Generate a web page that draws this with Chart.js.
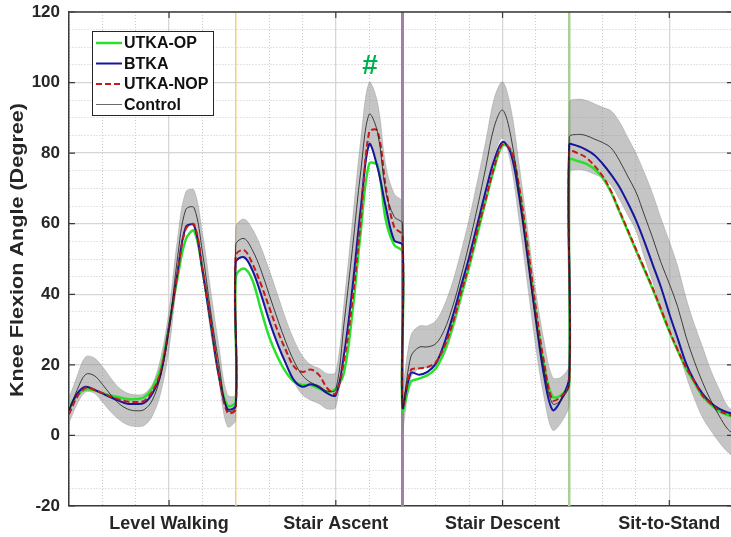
<!DOCTYPE html>
<html>
<head>
<meta charset="utf-8">
<script src="https://cdn.jsdelivr.net/npm/chart.js@4.4.1/dist/chart.umd.min.js"></script>
<style>
  html, body { margin: 0; padding: 0; background: #fff; }
  canvas { display: block; }
</style>
</head>
<body>
<canvas id="kneeChart" width="731" height="537"></canvas>
<script>
// % of each task cycle, same sampling for all four tasks
var cyclePct = [0, 5, 10, 15, 20, 25, 30, 35, 40, 45, 50, 55, 60, 65, 70, 75, 80, 85, 90, 95, 100];
var tasks = ['Level Walking', 'Stair Ascent', 'Stair Descent', 'Sit-to-Stand'];
var taskTickAt = [60, 160, 260, 360];

// knee flexion (deg), one row per task
var utkaOp = [
    8, 11.5, 13, 12.8, 12, 11.3, 10.8, 10.3, 10.3, 10.8, 13.5, 19, 31, 44.5, 55.5, 58, 47, 32, 17, 8.5, 9.5,
    45, 47.3, 44, 35.8, 28, 22.3, 18, 15.2, 14.3, 14.3, 13.3, 12.4, 13.3, 18, 35, 58, 77, 76.5, 61, 54, 52,
    7, 15.2, 16.1, 17.1, 19, 23.7, 30.8, 39.3, 47.8, 57.2, 66.7, 75.6, 82.2, 80.8, 69.5, 52.5, 34.6, 19.5, 11, 11.4, 14.7,
    78, 77.8, 77, 75.5, 73, 69, 63.5, 58, 52.5, 47, 41.5, 35.5, 29.5, 24, 19, 15, 11, 8.7, 6.8, 5.8, 5
];
var btka = [
    7.2, 11.9, 13.8, 13, 11.9, 10.8, 9.8, 9, 8.9, 9.2, 11.9, 17.5, 30.8, 45.9, 59, 59.5, 46.8, 31.7, 16.6, 7.5, 8.5,
    49, 50.5, 46.8, 40.2, 32.6, 26, 20.4, 15.6, 13.8, 14.5, 13.6, 11.9, 11.4, 23.2, 42, 64.5, 82.5, 76, 64.7, 55.3, 54,
    8, 17.7, 17.2, 18, 20.4, 26, 33.6, 42.1, 50.6, 60, 69.5, 78, 83.2, 79.9, 67.6, 50.6, 32.7, 16.6, 7.2, 10, 16.6,
    82.3, 82, 81, 79.5, 77, 74, 70.5, 66, 61, 55, 48.5, 42, 34.5, 27.5, 20.5, 15.5, 11.8, 9.2, 7.5, 6.5, 6
];
var utkaNop = [
    6, 11, 13.5, 13, 12, 11, 10.2, 9.6, 9.5, 9.8, 12.5, 18, 30.5, 45.5, 58.5, 59.8, 47.5, 32.5, 17, 6.5, 7.5,
    51, 52.5, 48.7, 43, 36.4, 29.8, 24.2, 19.5, 18, 18.7, 17.1, 13.3, 11.9, 21.3, 38.3, 61, 86, 86.3, 70.4, 59.1, 56.7,
    8.5, 18.5, 19, 19.4, 20.8, 25.1, 31.7, 40.2, 48.7, 58.2, 67.1, 76.1, 82.5, 80.8, 70.4, 53.9, 36, 20.4, 10, 11, 14.7,
    80.5, 80, 78.8, 76.5, 73.5, 69.3, 63.8, 58.3, 52.8, 47.3, 41.8, 35.8, 29.8, 24.3, 19.3, 15.3, 11.3, 9, 7, 6, 5.2
];
var control = [
    7, 13, 17.3, 17, 14.5, 11.5, 9, 7.5, 7, 7.3, 10, 17, 30, 50, 64, 64.5, 52, 35, 20, 7, 8,
    54, 55.8, 52.5, 47, 40, 33, 26.5, 21, 17, 15, 14, 12.5, 13, 32, 53, 75, 91, 86, 69, 62, 60,
    8, 22.3, 25, 25.1, 26, 29.8, 36.4, 44.9, 54.4, 64.8, 76.1, 87.5, 92.2, 84.7, 68.6, 50.6, 32.7, 18.5, 9, 10, 14.7,
    84.5, 85.3, 85, 84, 83, 81.5, 78, 73.5, 69, 62.5, 56, 49, 43, 36.5, 28, 21, 15, 9.8, 5.5, 1.8, 0
];
var controlSd = [
    3.5, 4, 5, 5, 5, 4.8, 4.5, 4.5, 4.5, 4.5, 4.5, 5, 5.5, 5.5, 5, 5, 5.5, 6, 5, 4.5, 3.5,
    5, 5.5, 6, 6.5, 7, 7, 6.5, 6, 5.5, 5, 5, 5, 5, 6, 8, 9, 9, 8.5, 7.5, 6.5, 6,
    6, 6, 6, 6, 6.5, 7, 7, 7, 7, 7.5, 7.5, 8, 8, 8, 8, 8, 8, 8, 7.5, 6.5, 5.5,
    10, 10, 10, 10, 10, 10.5, 11, 11, 11, 12, 12.5, 12.5, 12, 11.5, 11, 10.5, 10, 8.5, 7.5, 6.5, 6.5
];

var FONT = 'Arial, "Liberation Sans", sans-serif';

function toPoints(values) {
    return values.map(function (v, i) {
        var task = Math.floor(i / cyclePct.length);
        return { x: task * 100 + cyclePct[i % cyclePct.length], y: v };
    });
}
var bandUpper = control.map(function (v, i) { return v + controlSd[i]; });
var bandLower = control.map(function (v, i) { return v - controlSd[i]; });

var series = [
    { label: 'UTKA-OP', data: utkaOp, color: '#2be02b', width: 2.5, dash: [], order: 4 },
    { label: 'BTKA', data: btka, color: '#16169c', width: 2, dash: [], order: 3 },
    { label: 'UTKA-NOP', data: utkaNop, color: '#c41a1a', width: 2, dash: [6, 3], order: 2 },
    { label: 'Control', data: control, color: '#1a1a1a', width: 0.8, dash: [], order: 1 }
];
var separators = [
    { at: 100, color: '#efd27c', width: 1.5 },
    { at: 200, color: '#a081a6', width: 3 },
    { at: 300, color: '#a9d196', width: 2.5 }
];

var datasets = [{
    label: 'band+',
    data: toPoints(bandUpper),
    borderColor: 'rgba(120,120,120,0.5)',
    borderWidth: 0.6,
    backgroundColor: 'rgba(140,140,140,0.5)',
    fill: '+1',
    pointRadius: 0,
    tension: 0.35,
    order: 10
}, {
    label: 'band-',
    data: toPoints(bandLower),
    borderColor: 'rgba(120,120,120,0.5)',
    borderWidth: 0.6,
    fill: false,
    pointRadius: 0,
    tension: 0.35,
    order: 10
}];
series.forEach(function (s) {
    datasets.push({
        label: s.label,
        data: toPoints(s.data),
        borderColor: s.color,
        borderWidth: s.width,
        borderDash: s.dash,
        fill: false,
        pointRadius: 0,
        tension: 0.35,
        order: s.order
    });
});

function isMajorX(v) { return taskTickAt.indexOf(v) >= 0; }
function isMajorY(v) { return v % 20 === 0; }

var decorations = {
    id: 'decorations',
    beforeDatasetsDraw: function (chart) {
        var ctx = chart.ctx, area = chart.chartArea, xs = chart.scales.x;
        ctx.save();
        separators.forEach(function (s) {
            var px = xs.getPixelForValue(s.at);
            ctx.strokeStyle = s.color;
            ctx.lineWidth = s.width;
            ctx.beginPath();
            ctx.moveTo(px, area.top);
            ctx.lineTo(px, area.bottom);
            ctx.stroke();
        });
        ctx.restore();
    },
    afterDraw: function (chart) {
        var ctx = chart.ctx, area = chart.chartArea, xs = chart.scales.x, ys = chart.scales.y;
        ctx.save();
        // top border + inward ticks (matlab box)
        ctx.strokeStyle = '#3a3a3a';
        ctx.lineWidth = 1.5;
        ctx.beginPath();
        ctx.moveTo(area.left, area.top);
        ctx.lineTo(area.right, area.top);
        ctx.stroke();
        ctx.lineWidth = 1.2;
        taskTickAt.forEach(function (v) {
            var px = xs.getPixelForValue(v);
            ctx.beginPath();
            ctx.moveTo(px, area.bottom); ctx.lineTo(px, area.bottom - 6);
            ctx.moveTo(px, area.top); ctx.lineTo(px, area.top + 6);
            ctx.stroke();
        });
        for (var v = -20; v <= 120; v += 20) {
            var py = ys.getPixelForValue(v);
            ctx.beginPath();
            ctx.moveTo(area.left, py); ctx.lineTo(area.left + 6, py);
            ctx.moveTo(area.right, py); ctx.lineTo(area.right - 4, py);
            ctx.stroke();
        }

        // significance mark
        ctx.fillStyle = '#00b050';
        ctx.font = 'bold 28px ' + FONT;
        ctx.textAlign = 'center';
        ctx.textBaseline = 'middle';
        ctx.fillText('#', xs.getPixelForValue(180.5), ys.getPixelForValue(104.6));

        // y axis title, stretched along its length like the original
        var title = 'Knee Flexion Angle (Degree)';
        ctx.font = 'bold 18px ' + FONT;
        ctx.fillStyle = '#262626';
        var w = ctx.measureText(title).width;
        ctx.translate(18.5, 250);
        ctx.rotate(-Math.PI / 2);
        ctx.scale(294 / w, 1);
        ctx.fillText(title, 0, 0);
        ctx.setTransform(1, 0, 0, 1, 0, 0);

        // legend box
        var bx = 92, by = 31, bw = 121, bh = 84;
        ctx.fillStyle = '#fff';
        ctx.fillRect(bx, by, bw, bh);
        ctx.strokeStyle = '#262626';
        ctx.lineWidth = 1;
        ctx.strokeRect(bx + 0.5, by + 0.5, bw, bh);
        ctx.font = 'bold 16px ' + FONT;
        ctx.textAlign = 'left';
        ctx.textBaseline = 'middle';
        series.forEach(function (s, i) {
            var ly = by + 12 + i * 20.5;
            ctx.strokeStyle = s.label === 'Control' ? '#6a6a6a' : s.color;
            ctx.lineWidth = s.label === 'Control' ? 1 : s.width;
            ctx.setLineDash(s.dash);
            ctx.beginPath();
            ctx.moveTo(bx + 4, ly);
            ctx.lineTo(bx + 30, ly);
            ctx.stroke();
            ctx.setLineDash([]);
            ctx.fillStyle = '#111';
            ctx.fillText(s.label, bx + 32, ly + 1);
        });
        ctx.restore();
    }
};

var ctx = document.getElementById('kneeChart').getContext('2d');
var kneeChart = new Chart(ctx, {
    type: 'line',
    data: { datasets: datasets },
    options: {
        responsive: false,
        animation: false,
        devicePixelRatio: 1,
        layout: { padding: { top: 12, right: 0, bottom: 0, left: 0 } },
        plugins: {
            legend: { display: false },
            tooltip: { enabled: false }
        },
        scales: {
            x: {
                type: 'linear',
                min: 0,
                max: 397,
                afterFit: function (s) {
                    s.height = 31;
                    s.paddingLeft = 0;
                    s.paddingRight = 0;
                },
                ticks: {
                    stepSize: 20,
                    autoSkip: false,
                    maxRotation: 0,
                    padding: 7,
                    color: '#262626',
                    font: { family: FONT, size: 18, weight: 'bold' },
                    callback: function (v) {
                        var i = taskTickAt.indexOf(v);
                        return i >= 0 ? tasks[i] : '';
                    }
                },
                grid: {
                    drawTicks: false,
                    color: function (c) { return c.tick && isMajorX(c.tick.value) ? '#d6d6d6' : '#cbcbcb'; },
                    lineWidth: function (c) { return c.tick && isMajorX(c.tick.value) ? 1.3 : 1; }
                },
                border: {
                    color: '#3a3a3a',
                    width: 1.5,
                    dash: function (c) { return c.tick && !isMajorX(c.tick.value) ? [1, 2] : []; }
                }
            },
            y: {
                min: -20,
                max: 120,
                afterFit: function (s) {
                    s.width = 69;
                    s.paddingTop = 0;
                    s.paddingBottom = 0;
                },
                ticks: {
                    stepSize: 5,
                    autoSkip: false,
                    padding: 9,
                    color: '#262626',
                    font: { family: FONT, size: 17, weight: 'bold' },
                    callback: function (v) { return isMajorY(v) ? String(v) : ''; }
                },
                grid: {
                    drawTicks: false,
                    color: function (c) { return c.tick && isMajorY(c.tick.value) ? '#d6d6d6' : '#cbcbcb'; },
                    lineWidth: function (c) { return c.tick && isMajorY(c.tick.value) ? 1.3 : 1; }
                },
                border: {
                    color: '#3a3a3a',
                    width: 1.5,
                    dash: function (c) { return c.tick && !isMajorY(c.tick.value) ? [1, 2] : []; }
                }
            }
        }
    },
    plugins: [decorations]
});
</script>
</body>
</html>
